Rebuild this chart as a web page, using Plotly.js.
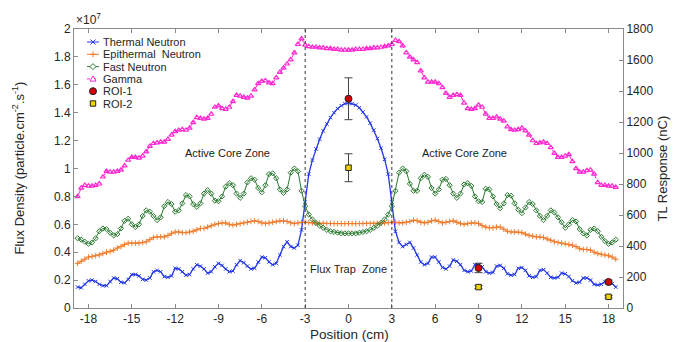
<!DOCTYPE html>
<html><head><meta charset="utf-8">
<script src="https://cdn.plot.ly/plotly-3.0.1.min.js"></script>
<style>html,body{margin:0;padding:0;background:#fff}#chart{width:673px;height:342px}</style>
</head><body><div id="chart"></div>
<script>
// Positions start at -18.75 cm with a 0.25 cm step (rows of 10 values = 2.5 cm each)
const POS_START = -18.75, POS_STEP = 0.25;

// Flux densities in units of 1e7 particle.cm^-2.s^-1
const thermal = [
  0.15, 0.145, 0.17, 0.195, 0.20, 0.19, 0.17, 0.16, 0.16, 0.19,
  0.215, 0.21, 0.185, 0.18, 0.205, 0.24, 0.24, 0.23, 0.205, 0.20,
  0.215, 0.26, 0.27, 0.26, 0.225, 0.22, 0.23, 0.285, 0.28, 0.26,
  0.235, 0.24, 0.28, 0.31, 0.30, 0.28, 0.25, 0.26, 0.295, 0.32,
  0.305, 0.28, 0.26, 0.265, 0.31, 0.34, 0.325, 0.30, 0.28, 0.285,
  0.33, 0.365, 0.36, 0.33, 0.31, 0.32, 0.38, 0.44, 0.475, 0.44,
  0.43, 0.45, 0.56, 0.76, 0.96, 1.06, 1.14, 1.21, 1.27, 1.32,
  1.365, 1.40, 1.43, 1.45, 1.465, 1.47, 1.465, 1.455, 1.435, 1.405,
  1.37, 1.325, 1.275, 1.215, 1.145, 1.065, 0.96, 0.76, 0.55, 0.47,
  0.44, 0.455, 0.47, 0.43, 0.38, 0.33, 0.31, 0.32, 0.365, 0.365,
  0.33, 0.29, 0.28, 0.30, 0.345, 0.335, 0.31, 0.27, 0.26, 0.265,
  0.31, 0.315, 0.295, 0.26, 0.25, 0.255, 0.30, 0.305, 0.285, 0.245,
  0.235, 0.24, 0.285, 0.29, 0.27, 0.23, 0.22, 0.225, 0.27, 0.275,
  0.25, 0.22, 0.215, 0.22, 0.25, 0.245, 0.225, 0.195, 0.18, 0.185,
  0.215, 0.215, 0.20, 0.17, 0.165, 0.17, 0.19, 0.19, 0.175, 0.15
];
const epithermal = [
  0.32, 0.335, 0.35, 0.365, 0.37, 0.375, 0.38, 0.39, 0.40, 0.405,
  0.415, 0.43, 0.44, 0.455, 0.465, 0.465, 0.465, 0.465, 0.47, 0.475,
  0.49, 0.505, 0.51, 0.51, 0.51, 0.52, 0.535, 0.545, 0.545, 0.54,
  0.54, 0.545, 0.55, 0.56, 0.57, 0.57, 0.58, 0.59, 0.60, 0.605,
  0.61, 0.61, 0.60, 0.595, 0.60, 0.605, 0.61, 0.615, 0.62, 0.625,
  0.62, 0.61, 0.605, 0.61, 0.615, 0.62, 0.625, 0.625, 0.62, 0.61,
  0.605, 0.61, 0.615, 0.615, 0.612, 0.61, 0.608, 0.607, 0.607, 0.606,
  0.606, 0.605, 0.605, 0.605, 0.605, 0.605, 0.605, 0.605, 0.605, 0.605,
  0.606, 0.606, 0.607, 0.607, 0.608, 0.61, 0.612, 0.615, 0.615, 0.61,
  0.61, 0.615, 0.62, 0.63, 0.625, 0.615, 0.61, 0.615, 0.625, 0.63,
  0.62, 0.61, 0.615, 0.62, 0.625, 0.615, 0.605, 0.60, 0.605, 0.61,
  0.61, 0.605, 0.59, 0.58, 0.575, 0.575, 0.58, 0.58, 0.565, 0.55,
  0.545, 0.545, 0.545, 0.54, 0.53, 0.52, 0.515, 0.51, 0.51, 0.505,
  0.495, 0.485, 0.475, 0.47, 0.465, 0.46, 0.455, 0.45, 0.44, 0.425,
  0.42, 0.42, 0.415, 0.40, 0.39, 0.385, 0.38, 0.375, 0.365, 0.35
];
const fast = [
  0.50, 0.49, 0.475, 0.46, 0.47, 0.50, 0.55, 0.57, 0.565, 0.54,
  0.52, 0.53, 0.57, 0.625, 0.64, 0.60, 0.58, 0.60, 0.66, 0.70,
  0.69, 0.66, 0.63, 0.65, 0.73, 0.76, 0.745, 0.69, 0.70, 0.75,
  0.81, 0.80, 0.745, 0.725, 0.75, 0.82, 0.845, 0.82, 0.77, 0.765,
  0.80, 0.87, 0.895, 0.88, 0.82, 0.79, 0.82, 0.90, 0.93, 0.92,
  0.86, 0.83, 0.88, 0.96, 0.965, 0.93, 0.85, 0.825, 0.85, 0.97,
  1.0, 0.98, 0.84, 0.73, 0.67, 0.635, 0.61, 0.59, 0.575, 0.56,
  0.55, 0.545, 0.54, 0.535, 0.535, 0.535, 0.535, 0.535, 0.54, 0.545,
  0.55, 0.56, 0.575, 0.59, 0.61, 0.635, 0.67, 0.73, 0.84, 0.97,
  1.0, 0.98, 0.89, 0.84, 0.84, 0.93, 0.955, 0.94, 0.86, 0.82,
  0.85, 0.92, 0.925, 0.88, 0.82, 0.79, 0.82, 0.885, 0.895, 0.875,
  0.80, 0.765, 0.76, 0.855, 0.85, 0.80, 0.745, 0.715, 0.75, 0.81,
  0.805, 0.75, 0.705, 0.68, 0.72, 0.76, 0.745, 0.70, 0.66, 0.63,
  0.66, 0.70, 0.685, 0.65, 0.615, 0.575, 0.60, 0.63, 0.62, 0.565,
  0.535, 0.52, 0.56, 0.57, 0.55, 0.51, 0.48, 0.46, 0.47, 0.49
];
const gamma = [
  0.80, 0.86, 0.88, 0.875, 0.875, 0.88, 0.89, 0.94, 0.98, 0.975,
  0.975, 0.98, 0.99, 1.02, 1.06, 1.08, 1.08, 1.075, 1.09, 1.12,
  1.16, 1.18, 1.185, 1.19, 1.19, 1.21, 1.24, 1.265, 1.275, 1.28,
  1.275, 1.29, 1.33, 1.365, 1.36, 1.355, 1.36, 1.39, 1.44, 1.45,
  1.43, 1.425, 1.44, 1.48, 1.525, 1.52, 1.51, 1.505, 1.52, 1.565,
  1.61, 1.625, 1.63, 1.615, 1.61, 1.65, 1.69, 1.72, 1.75, 1.78,
  1.83, 1.89, 1.93, 1.885, 1.875, 1.87, 1.87, 1.865, 1.865, 1.86,
  1.86, 1.855, 1.855, 1.85, 1.85, 1.85, 1.85, 1.855, 1.855, 1.855,
  1.86, 1.86, 1.865, 1.865, 1.87, 1.875, 1.88, 1.89, 1.92, 1.91,
  1.88, 1.83, 1.80, 1.78, 1.76, 1.70, 1.65, 1.62, 1.62, 1.62,
  1.61, 1.58, 1.54, 1.51, 1.525, 1.53, 1.525, 1.47, 1.43, 1.425,
  1.43, 1.455, 1.44, 1.39, 1.36, 1.36, 1.37, 1.355, 1.34, 1.30,
  1.28, 1.275, 1.28, 1.29, 1.27, 1.24, 1.20, 1.18, 1.185, 1.19,
  1.18, 1.15, 1.11, 1.08, 1.08, 1.09, 1.10, 1.05, 1.0, 0.975,
  0.975, 0.985, 0.99, 0.96, 0.90, 0.88, 0.88, 0.875, 0.875, 0.865
];

// TL response (nC) of the dosimeters
const roiPositions = [0, 9, 18];
const roi1 = [1350, 258, 168];
const roi1Err = [135, 30, 12];
const roi2 = [905, 135, 72];
const roi2Err = [90, 10, 8];

const xTickVals = [-18, -15, -12, -9, -6, -3, 0, 3, 6, 9, 12, 15, 18];
const xTickText = ['-18', '-15', '-12', '-9', '-6', '-3', '0', '3', '6', '9', '12', '15', '18'];
const zoneBounds = [-3, 3];
const seriesNames = ['Thermal Neutron', 'Epithermal\u00a0 Neutron', 'Fast Neutron', 'Gamma', 'ROI-1', 'ROI-2'];
const zoneLabels = ['Active Core Zone', 'Active Core Zone', 'Flux Trap\u00a0 Zone'];

const C = {blue:'#2438e8', orange:'#f07b2a', green:'#2a7a30', magenta:'#ff2ad2', red:'#d40000', yellow:'#f3d400'};
const FONT = 'Arial, "Liberation Sans", sans-serif';

// plot area in pixels (for placing layout items)
const PL = 74, PR = 623, PT = 29, PB = 308;
const px = v => (v - PL) / (PR - PL);
const py = v => (PB - v) / (PB - PT);

const traces = [
  {y: thermal, x0: POS_START, dx: POS_STEP, type:'scatter', mode:'lines+markers', name: seriesNames[0],
   line:{color:C.blue, width:1.3}, marker:{symbol:'x-thin', size:3.5, color:C.blue, line:{color:C.blue, width:1}}},
  {y: epithermal, x0: POS_START, dx: POS_STEP, type:'scatter', mode:'lines+markers', name: seriesNames[1],
   line:{color:C.orange, width:1}, marker:{symbol:'cross-thin', size:4, color:C.orange, line:{color:C.orange, width:1}}},
  {y: fast, x0: POS_START, dx: POS_STEP, type:'scatter', mode:'lines+markers', name: seriesNames[2],
   line:{color:C.green, width:1}, marker:{symbol:'diamond-open', size:4, color:C.green, line:{width:1}}},
  {y: gamma, x0: POS_START, dx: POS_STEP, type:'scatter', mode:'lines+markers', name: seriesNames[3],
   line:{color:C.magenta, width:1, dash:'dash'}, marker:{symbol:'triangle-up-open', size:4.5, color:C.magenta, line:{width:1.2}}},
  {x: roiPositions, y: roi1, yaxis:'y2', type:'scatter', mode:'markers', name: seriesNames[4],
   error_y:{type:'data', array: roi1Err, visible:true, color:'#444', thickness:1, width:4},
   marker:{symbol:'circle', size:7, color:C.red, line:{color:'#222', width:1}}},
  {x: roiPositions, y: roi2, yaxis:'y2', type:'scatter', mode:'markers', name: seriesNames[5],
   error_y:{type:'data', array: roi2Err, visible:true, color:'#444', thickness:1, width:4},
   marker:{symbol:'square', size:5.5, color:C.yellow, line:{color:'#222', width:1}}}
];

const axisCommon = {showgrid:false, zeroline:false, showline:true, linecolor:'#8a8a8a', linewidth:1,
  ticks:'inside', ticklen:4, tickcolor:'#8a8a8a', tickfont:{family:FONT, size:12, color:'#262626'}};

const shapes = zoneBounds.map(b => ({type:'line', xref:'x', yref:'paper', x0:b, x1:b, y0:0, y1:1,
  line:{color:'#333', width:1, dash:'dot'}}));

const annotations = [
  {text:'×10<sup>7</sup>', xref:'paper', yref:'paper', x:0, y:1, xanchor:'left', yanchor:'bottom', showarrow:false,
   font:{family:FONT, size:12, color:'#262626'}},
  {text:'Flux Density (particle.cm<sup>-2</sup>.s<sup>-1</sup>)', xref:'paper', yref:'paper', x:px(18), y:0.5,
   textangle:-90, showarrow:false, xanchor:'center', yanchor:'middle', font:{family:FONT, size:13, color:'#262626'}},
  {text:'TL Response (nC)', xref:'paper', yref:'paper', x:px(662), y:0.5,
   textangle:-90, showarrow:false, xanchor:'center', yanchor:'middle', font:{family:FONT, size:13, color:'#262626'}},
  {text:'Position (cm)', xref:'paper', yref:'paper', x:px(349), y:py(334), showarrow:false,
   xanchor:'center', yanchor:'middle', font:{family:FONT, size:13.5, color:'#262626'}},
  {text: zoneLabels[0], xref:'x', yref:'y', x:-8.4, y:1.11, showarrow:false, font:{family:FONT, size:11, color:'#222'}},
  {text: zoneLabels[1], xref:'x', yref:'y', x:8.0, y:1.11, showarrow:false, font:{family:FONT, size:11, color:'#222'}},
  {text: zoneLabels[2], xref:'x', yref:'y', x:0, y:0.28, showarrow:false, font:{family:FONT, size:11, color:'#222'}}
];

// custom compact legend (top-left, inside the axes): sample line + marker shape + label
const legendStyle = [
  {c:C.blue, dash:'solid', kind:'path', path:'M-2.5,-2.5L2.5,2.5M-2.5,2.5L2.5,-2.5', fill:'rgba(0,0,0,0)'},
  {c:C.orange, dash:'solid', kind:'path', path:'M-3,0L3,0M0,-3L0,3', fill:'rgba(0,0,0,0)'},
  {c:C.green, dash:'solid', kind:'path', path:'M0,3L3,0L0,-3L-3,0Z', fill:'#fff'},
  {c:C.magenta, dash:'dot', kind:'path', path:'M-3,-2.2L3,-2.2L0,3Z', fill:'#fff'},
  {c:'#222', dash:null, kind:'circle', fill:C.red},
  {c:'#222', dash:null, kind:'rect', fill:C.yellow}
];
legendStyle.forEach((e, i) => {
  const yc = 42 + 12.3 * i;
  if (e.dash) shapes.push({type:'line', xref:'paper', yref:'paper', x0:px(87), x1:px(99), y0:py(yc), y1:py(yc),
    line:{color:e.c, width:1, dash:e.dash}});
  const base = {xref:'paper', yref:'paper', xsizemode:'pixel', ysizemode:'pixel', xanchor:px(93), yanchor:py(yc),
    line:{color:e.c, width:1}, fillcolor:e.fill};
  if (e.kind === 'path') shapes.push(Object.assign(base, {type:'path', path:e.path}));
  else if (e.kind === 'circle') shapes.push(Object.assign(base, {type:'circle', x0:-3.5, x1:3.5, y0:-3.5, y1:3.5}));
  else shapes.push(Object.assign(base, {type:'rect', x0:-2.7, x1:2.7, y0:-2.7, y1:2.7}));
  annotations.push({text:seriesNames[i], xref:'paper', yref:'paper', x:px(102), y:py(yc), xanchor:'left', yanchor:'middle',
    showarrow:false, font:{family:FONT, size:11, color:'#262626'}, borderpad:0});
});

const layout = {
  width:673, height:342, margin:{l:PL, r:673-PR, t:PT, b:342-PB, pad:0},
  paper_bgcolor:'#fff', plot_bgcolor:'#fff', showlegend:false,
  xaxis: Object.assign({}, axisCommon, {range:[-19, 19], tickvals:xTickVals, ticktext:xTickText, mirror:'ticks'}),
  yaxis: Object.assign({}, axisCommon, {range:[0, 2], tick0:0, dtick:0.2, mirror:false}),
  yaxis2: Object.assign({}, axisCommon, {range:[0, 1800], tick0:0, dtick:200, overlaying:'y', side:'right'}),
  shapes: shapes, annotations: annotations
};

Plotly.newPlot('chart', traces, layout, {displayModeBar:false, staticPlot:true});
</script>
</body></html>
